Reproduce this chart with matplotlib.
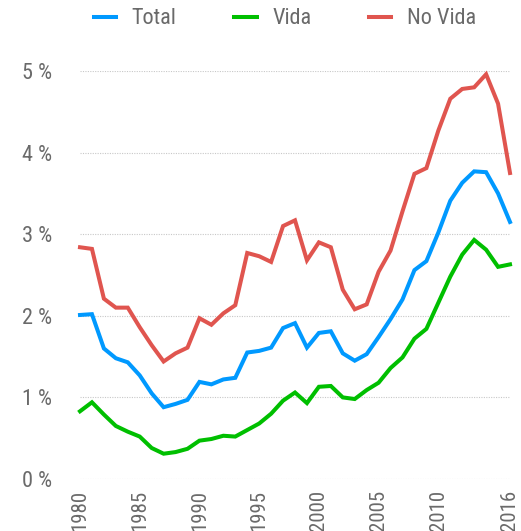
import matplotlib
matplotlib.use('Agg')
import matplotlib.pyplot as plt

plt.rcParams['font.family'] = ['Roboto Condensed', 'Roboto', 'DejaVu Sans']

years = list(range(1980, 2017))

total = [2.01, 2.02, 1.60, 1.48, 1.43, 1.27, 1.05, 0.88, 0.92, 0.97,
         1.19, 1.16, 1.22, 1.24, 1.55, 1.57, 1.61, 1.85, 1.91, 1.61,
         1.79, 1.81, 1.54, 1.45, 1.53, 1.74, 1.96, 2.20, 2.56, 2.67,
         3.02, 3.41, 3.63, 3.77, 3.76, 3.50, 3.15]

vida = [0.83, 0.94, 0.79, 0.65, 0.58, 0.52, 0.38, 0.31, 0.33, 0.37,
        0.47, 0.49, 0.53, 0.52, 0.60, 0.68, 0.80, 0.96, 1.06, 0.93,
        1.13, 1.14, 1.00, 0.98, 1.09, 1.18, 1.36, 1.49, 1.72, 1.84,
        2.16, 2.48, 2.75, 2.93, 2.81, 2.60, 2.63]

no_vida = [2.84, 2.82, 2.21, 2.10, 2.10, 1.86, 1.64, 1.44, 1.54, 1.61,
           1.97, 1.89, 2.03, 2.13, 2.77, 2.73, 2.66, 3.10, 3.17, 2.68,
           2.90, 2.84, 2.32, 2.08, 2.14, 2.54, 2.80, 3.28, 3.74, 3.81,
           4.27, 4.66, 4.78, 4.80, 4.96, 4.60, 3.75]

labels = ['Total', 'Vida', 'No Vida']
colors = ['#0099ff', '#00bf00', '#e0554f']
xticks = [1980, 1985, 1990, 1995, 2000, 2005, 2010, 2016]
yticks = [0, 1, 2, 3, 4, 5]

fig = plt.figure(figsize=(5.21, 5.31), dpi=100)
ax = fig.add_axes([80 / 521, 1 - 479 / 531, 430 / 521, 408 / 531])

for series, lab, col in zip([total, vida, no_vida], labels, colors):
    ax.plot(years, series, color=col, lw=2.9, label=lab, clip_on=False,
            solid_joinstyle='miter')

ax.set_xlim(1980, 2016)
ax.set_ylim(0, 5)
ax.set_yticks(yticks)
ax.set_yticklabels([f'{t} %' for t in yticks])
ax.set_xticks(xticks)
ax.set_xticklabels([str(t) for t in xticks], rotation=90)
ax.tick_params(axis='both', length=0, colors='#6a6a6a')
ax.tick_params(axis='y', labelsize=16, pad=20)
ax.tick_params(axis='x', labelsize=15, pad=8)
ax.grid(axis='y', color='#c8c8c8', linestyle=(0, (1, 1.2)), lw=0.8)
ax.set_axisbelow(True)
for s in ax.spines.values():
    s.set_visible(False)

fig.legend(loc='center', bbox_to_anchor=(285 / 521, 1 - 19 / 531), ncol=3,
           frameon=False, fontsize=16, labelcolor='#6a6a6a',
           handlelength=1.0, handletextpad=0.7, columnspacing=2.6)

fig.savefig('out.png', dpi=100)
